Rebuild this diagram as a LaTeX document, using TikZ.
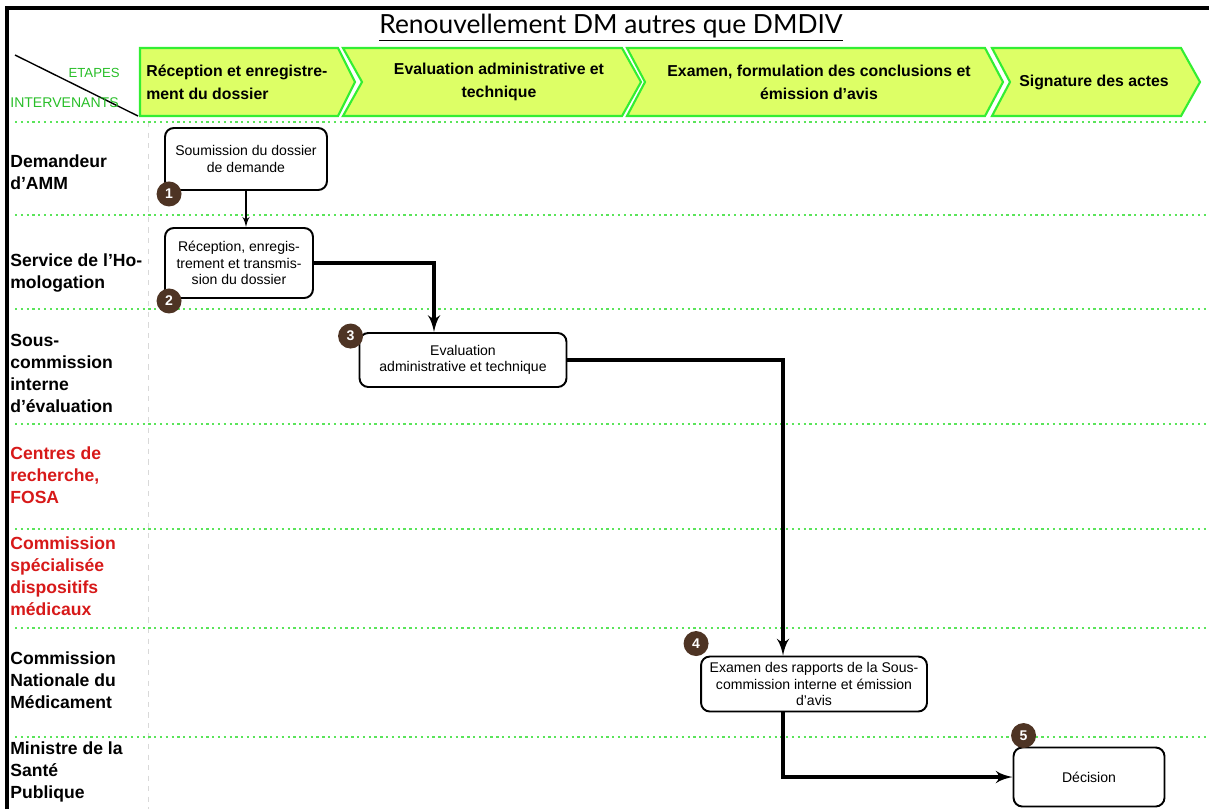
\documentclass[tikz,border=0pt]{standalone}
\usepackage{fontspec}
\setmainfont{Liberation Sans}
\newfontfamily\titlefont{Lato}
\usetikzlibrary{arrows}

\definecolor{chevfill}{RGB}{221,255,102}
\definecolor{chevline}{RGB}{51,238,51}
\definecolor{dotgreen}{RGB}{90,228,90}
\definecolor{etapgreen}{RGB}{40,190,40}
\definecolor{labred}{RGB}{215,25,25}
\definecolor{badge}{RGB}{78,52,36}

\begin{document}
\begin{tikzpicture}[x=0.02cm,y=-0.02cm,>=latex',
    etape/.style={draw=chevline,fill=chevfill,line width=1.2pt},
    etapetext/.style={font=\fontsize{9}{13}\selectfont\bfseries,align=center,inner sep=0pt},
    lane/.style={dotgreen,dotted,line width=1.3pt},
    actor/.style={anchor=west,align=left,inner sep=0pt,
      font=\fontsize{10}{12.5}\selectfont\bfseries},
    box/.style={rectangle,rounded corners=5pt,draw,line width=1.1pt,fill=white,
      font=\fontsize{8}{9.5}\selectfont,align=center,inner sep=2pt},
    num/.style={circle,fill=badge,text=white,inner sep=0pt,minimum size=0.5cm,
      font=\fontsize{8}{8}\selectfont\bfseries},
    thin arrow/.style={->,line width=1pt},
    thick arrow/.style={->,line width=2.3pt}]

  \useasboundingbox (0,0) rectangle (1209,809);

  % cadre et titre
  \draw[line width=1.8pt] (7,809) -- (7,8) -- (1209,8);
  \node[font=\titlefont\fontsize{15}{18}\selectfont] (titre) at (611,28)
    {\underline{Renouvellement DM autres que DMDIV}};

  % en-tete
  \draw[line width=0.8pt] (15,55) -- (138,116);
  \node[text=etapgreen,font=\fontsize{7.5}{8}\selectfont,anchor=east,inner sep=0pt]
    (etapes) at (120,73) {ETAPES};
  \node[text=etapgreen,font=\fontsize{8}{8}\selectfont,anchor=west,inner sep=0pt]
    (intervenants) at (10,103) {INTERVENANTS};

  \filldraw[etape] (140,48) -- (338,48) -- (355,82) -- (338,116) -- (140,116) -- cycle;
  \filldraw[etape] (343,48) -- (622,48) -- (641,82) -- (622,116) -- (343,116) -- (362,82) -- cycle;
  \filldraw[etape] (627,48) -- (985,48) -- (1003,82) -- (985,116) -- (627,116) -- (645,82) -- cycle;
  \filldraw[etape] (992,48) -- (1181,48) -- (1200,82) -- (1181,116) -- (992,116) -- (1010,82) -- cycle;

  \node[etapetext,align=left,anchor=west] (e1) at (146,82) {Réception et enregistre-\\ment du dossier};
  \node[etapetext] (e2) at (499,82) {Evaluation administrative et\\technique};
  \node[etapetext] (e3) at (819,82) {Examen, formulation des conclusions et\\émission d’avis};
  \node[etapetext] (e4) at (1094,82) {Signature des actes};

  % couloirs
  \draw[gray!30,dashed,line width=0.4pt] (148,122) -- (148,809);
  \foreach \y in {122,215,309,424,529,628,737}
    \draw[lane] (15,\y) -- (1209,\y);

  \node[actor] (demandeur) at (10,172) {Demandeur\\d’AMM};
  \node[actor] (service) at (10,273) {Service de l’Ho-\\mologation};
  \node[actor] (souscom) at (10,373) {Sous-\\commission\\interne\\d’évaluation};
  \node[actor,text=labred] (centres) at (10,475) {Centres de\\recherche,\\FOSA};
  \node[actor,text=labred] (comspec) at (10,576) {Commission\\spécialisée\\dispositifs\\médicaux};
  \node[actor] (cnm) at (10,680) {Commission\\Nationale du\\Médicament};
  \node[actor] (ministre) at (10,772) {Ministre de la\\Santé\\Publique};

  % etapes du processus
  \node[box,minimum width=3.24cm,minimum height=1.24cm] (soumission) at (246,159)
    {Soumission du dossier\\de demande};
  \node[box,minimum width=2.96cm,minimum height=1.4cm] (reception) at (239,263)
    {Réception, enregis-\\trement et transmis-\\sion du dossier};
  \node[box,minimum width=4.14cm,minimum height=1.08cm] (evaluation) at (463,360)
    {Evaluation\\administrative et technique};
  \node[box,minimum width=4.52cm,minimum height=1.1cm] (examen) at (814,684)
    {Examen des rapports de la Sous-\\commission interne et émission\\d’avis};
  \node[box,minimum width=3.02cm,minimum height=1.18cm] (decision) at (1089,777)
    {Décision};

  \node[num] (n1) at ([shift={(5,3)}]soumission.south west) {1};
  \node[num] (n2) at ([shift={(5,2)}]reception.south west) {2};
  \node[num] (n3) at ([shift={(-8,4)}]evaluation.north west) {3};
  \node[num] (n4) at ([shift={(-4,-12)}]examen.north west) {4};
  \node[num] (n5) at ([shift={(11,-11)}]decision.north west) {5};

  \draw[thin arrow] (soumission.south) -- (soumission.south |- reception.north);
  \draw[thick arrow] (reception.east) -| ([xshift=-0.58cm]evaluation.north);
  \draw[thick arrow] (evaluation.east) -| ([xshift=-0.62cm]examen.north);
  \draw[thick arrow] ([xshift=-0.62cm]examen.south) |- (decision.west);
\end{tikzpicture}
\end{document}
